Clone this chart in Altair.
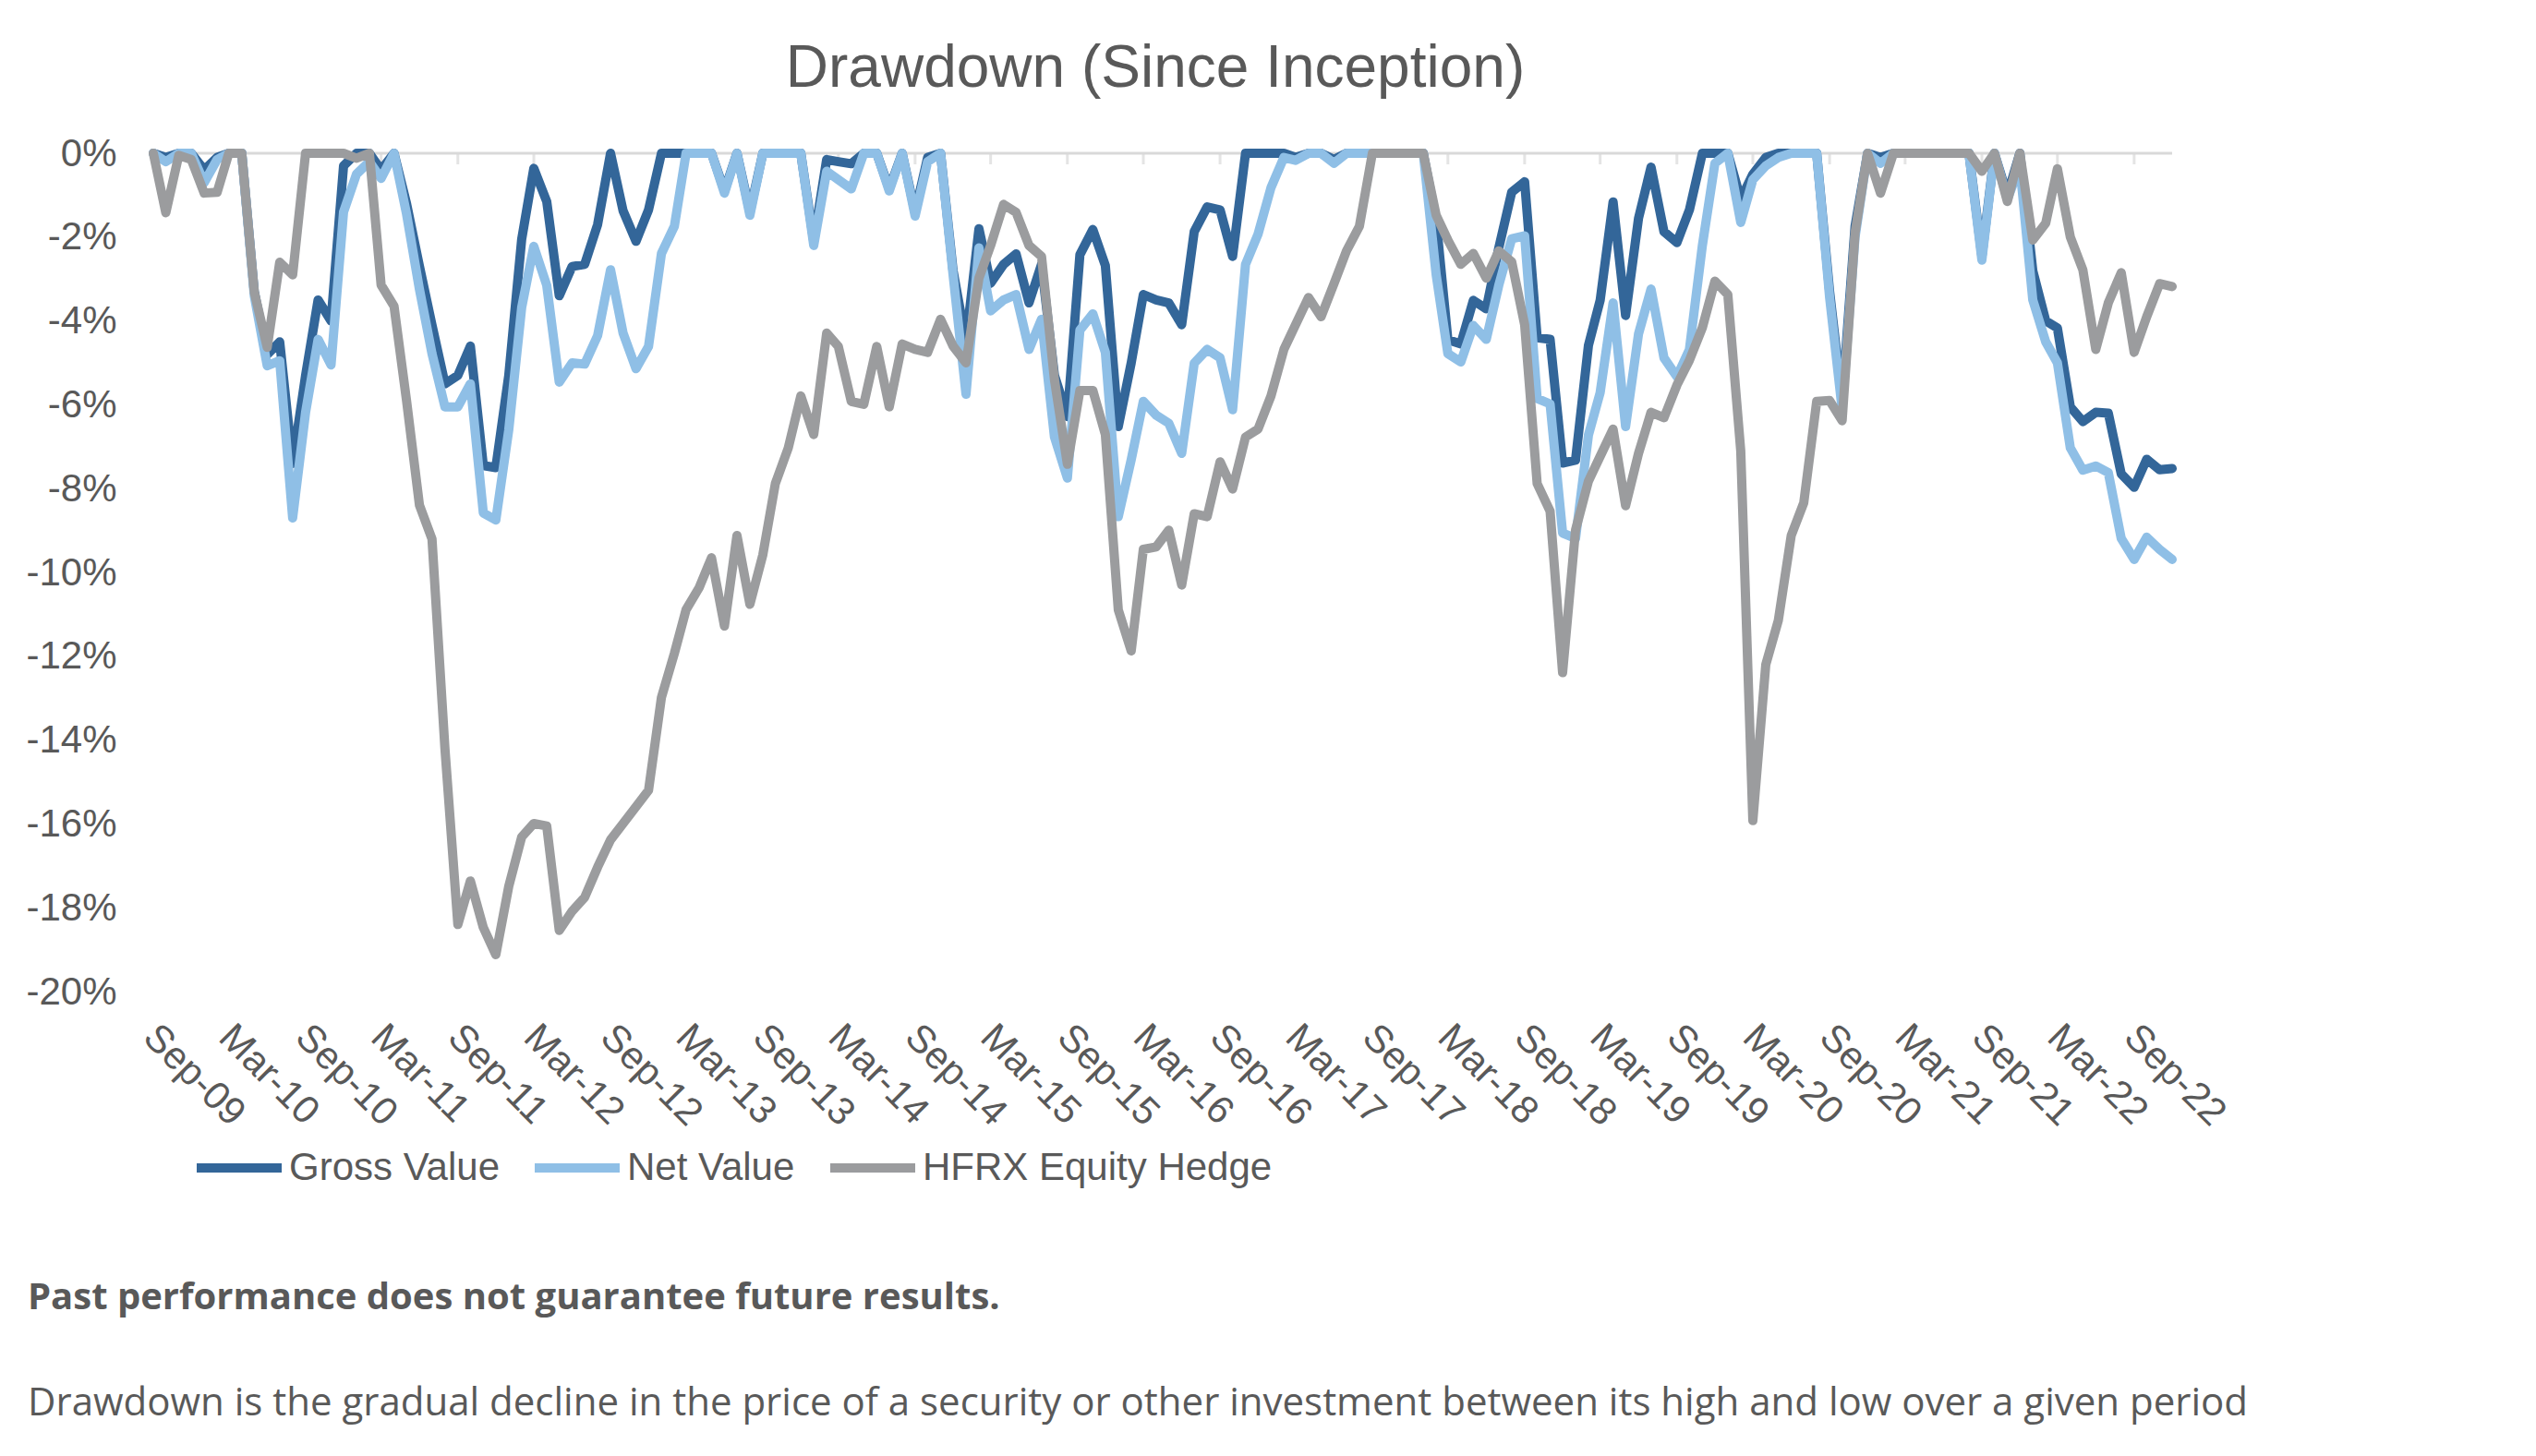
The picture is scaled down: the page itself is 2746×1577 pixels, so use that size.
import altair as alt
import pandas as pd

# ---------------- data ----------------
months = pd.date_range("2009-09-01", periods=160, freq="MS").strftime("%Y-%m-%dT00:00:00").tolist()

gross = [
    0, -0.1, 0, 0, -0.4, -0.1, 0, 0, -3.3, -4.8,
    -4.5, -7.4, -5.3, -3.5, -4.0, -0.3, 0, 0, -0.4, 0,
    -1.2, -2.7, -4.1, -5.5, -5.3, -4.6, -7.45, -7.5, -5.3, -2.05,
    -0.36, -1.15, -3.4, -2.7, -2.65, -1.7, 0, -1.37, -2.1, -1.35,
    0, 0, 0, 0, 0, -0.9, 0, -1.4, 0, 0,
    0, 0, -2.1, -0.15, -0.2, -0.25, 0, 0, -0.85, 0,
    -1.42, -0.1, 0, -2.8, -4.5, -1.8, -3.1, -2.65, -2.4, -3.57,
    -2.65, -5.3, -6.28, -2.42, -1.82, -2.68, -6.52, -5.0, -3.37, -3.5,
    -3.57, -4.09, -1.87, -1.28, -1.35, -2.46, 0, 0, 0, 0,
    -0.1, 0, 0, -0.15, 0, 0, 0, 0, 0, 0,
    0, -1.6, -4.45, -4.55, -3.51, -3.71, -2.26, -0.93, -0.68, -4.4,
    -4.44, -7.39, -7.32, -4.58, -3.51, -1.16, -3.87, -1.55, -0.33, -1.87,
    -2.13, -1.35, 0, 0, 0, -1.1, -0.5, -0.1, 0, 0,
    0, 0, -3.3, -5.9, -1.74, 0, -0.1, 0, 0, 0,
    0, 0, 0, 0, -2.45, 0, -1.0, 0, -2.8, -4.0,
    -4.17, -6.05, -6.4, -6.18, -6.2, -7.65, -7.97, -7.3, -7.55, -7.52,
]

net = [
    0, -0.2, 0, 0, -0.7, -0.15, 0, 0, -3.4, -5.07,
    -4.95, -8.7, -6.18, -4.44, -5.05, -1.4, -0.5, -0.2, -0.6, 0,
    -1.45, -3.25, -4.78, -6.05, -6.05, -5.5, -8.58, -8.75, -6.6, -3.68,
    -2.22, -3.15, -5.46, -5.0, -5.03, -4.35, -2.78, -4.29, -5.14, -4.61,
    -2.39, -1.74, 0, 0, 0, -0.95, 0, -1.48, 0, 0,
    0, 0, -2.2, -0.43, -0.63, -0.85, 0, 0, -0.9, 0,
    -1.5, -0.2, 0, -2.9, -5.75, -2.26, -3.76, -3.5, -3.37, -4.68,
    -3.96, -6.77, -7.75, -4.22, -3.83, -4.75, -8.67, -7.31, -5.92, -6.25,
    -6.44, -7.16, -5.01, -4.68, -4.88, -6.12, -2.65, -1.93, -0.82, -0.1,
    -0.17, 0, 0, -0.24, 0, 0, 0, 0, 0, 0,
    0, -2.9, -4.78, -4.98, -4.11, -4.44, -3.15, -2.04, -1.97, -5.85,
    -5.98, -9.06, -9.19, -6.72, -5.71, -3.57, -6.52, -4.31, -3.24, -4.88,
    -5.33, -4.68, -2.2, -0.24, 0, -1.65, -0.63, -0.3, -0.1, 0,
    0, 0, -3.44, -6.1, -2.0, 0, -0.24, 0, 0, 0,
    0, 0, 0, 0, -2.55, 0, -1.1, -0.3, -3.5, -4.5,
    -5.0, -7.03, -7.56, -7.46, -7.62, -9.19, -9.69, -9.16, -9.45, -9.69,
]

hfrx = [
    0, -1.42, -0.05, -0.15, -0.95, -0.93, 0, 0, -3.31, -4.63,
    -2.6, -2.9, 0, 0, 0, 0, -0.12, 0, -3.14, -3.65,
    -5.9, -8.4, -9.2, -14.2, -18.4, -17.36, -18.47, -19.12, -17.49, -16.31,
    -15.99, -16.05, -18.54, -18.08, -17.75, -17.03, -16.38, -15.99, -15.59, -15.2,
    -12.98, -11.93, -10.89, -10.37, -9.65, -11.28, -9.12, -10.76, -9.58, -7.88,
    -7.03, -5.79, -6.71, -4.29, -4.61, -5.92, -5.99, -4.61, -6.05, -4.55,
    -4.68, -4.75, -3.96, -4.6, -5.0, -2.98, -2.2, -1.22, -1.41, -2.2,
    -2.46, -5.4, -7.42, -5.66, -5.66, -6.71, -10.89, -11.87, -9.45, -9.39,
    -8.99, -10.3, -8.6, -8.67, -7.36, -8.01, -6.77, -6.58, -5.79, -4.68,
    -4.09, -3.44, -3.9, -3.11, -2.33, -1.74, 0, 0, 0, 0,
    0, -1.48, -2.07, -2.65, -2.39, -2.98, -2.33, -2.59, -4.09, -7.88,
    -8.54, -12.39, -8.99, -7.82, -7.23, -6.58, -8.41, -7.16, -6.18, -6.31,
    -5.53, -4.94, -4.16, -3.05, -3.37, -7.1, -15.92, -12.2, -11.15, -9.12,
    -8.34, -5.92, -5.9, -6.38, -1.9, 0, -0.95, 0, 0, 0,
    0, 0, 0, 0, -0.43, 0, -1.15, 0, -2.07, -1.67,
    -0.37, -2.0, -2.78, -4.68, -3.57, -2.85, -4.75, -3.9, -3.11, -3.18,
]

series_names = ["Gross Value", "Net Value", "HFRX Equity Hedge"]
series_colors = ["#336699", "#8fbfe6", "#9b9c9e"]

tick_months = months[::6]            # Sep-09, Mar-10, ... Sep-22
y_ticks = list(range(0, -21, -2))    # 0% ... -20%

title_text = "Drawdown (Since Inception)"
note_bold = "Past performance does not guarantee future results."
note_text = ("Drawdown is the gradual decline in the price of a security or other "
             "investment between its high and low over a given period")

# ---------------- tables ----------------
df = pd.DataFrame({
    "date": months * 3,
    "series": [s for s in series_names for _ in months],
    "value": gross + net + hfrx,
})
tick_df = pd.DataFrame({"date": tick_months})

# ---------------- styling ----------------
FONT = "Liberation Sans"
TXT = "#595959"

def dt(s):
    return alt.DateTime(year=int(s[:4]), month=int(s[5:7]), date=1)

x_scale = alt.Scale(domain=[dt(months[0]), dt(months[-1])], nice=False)
y_scale = alt.Scale(domain=[-20, 0], nice=False, zero=False)

x_axis = alt.Axis(
    values=[dt(m) for m in tick_months], format="%b-%y", labelAngle=45,
    labelFont=FONT, labelFontSize=42, labelColor=TXT, labelPadding=28,
    labelOffset=10, labelOverlap=False, labelFlush=False, labelBound=False,
    ticks=False, tickSize=0, domain=False, grid=False, title=None,
)
y_axis = alt.Axis(
    values=y_ticks, labelExpr="datum.value + '%'", labelFont=FONT,
    labelFontSize=42, labelColor=TXT, labelPadding=40, ticks=False,
    tickSize=0, domain=False, grid=False, title=None,
)
legend = alt.Legend(
    orient="none", legendX=42, legendY=1048, direction="horizontal", title=None,
    symbolType="stroke", symbolSize=8464, symbolStrokeWidth=10,
    labelFont=FONT, labelFontSize=42, labelColor=TXT, labelOffset=3,
    labelLimit=1000, columnPadding=18, padding=0,
)
color_scale = alt.Scale(domain=series_names, range=series_colors)

# ---------------- layers ----------------
zero_line = alt.Chart(pd.DataFrame({"z": [0]})).mark_rule(
    color="#d9d9d9", strokeWidth=3
).encode(y=alt.Y("z:Q", scale=y_scale, axis=y_axis))

tick_marks = alt.Chart(tick_df).mark_tick(
    orient="vertical", color="#d9d9d9", thickness=3, size=12, yOffset=6
).encode(
    x=alt.X("date:T", scale=x_scale, axis=x_axis),
    y=alt.datum(0),
)

lines = []
for name in series_names:
    lines.append(
        alt.Chart(df).transform_filter(alt.datum.series == name).mark_line(
            strokeWidth=10, strokeCap="round", strokeJoin="round"
        ).encode(
            x=alt.X("date:T", scale=x_scale, axis=x_axis),
            y=alt.Y("value:Q", scale=y_scale, axis=y_axis),
            color=alt.Color("series:N", scale=color_scale, legend=legend),
        )
    )

title_mark = alt.Chart(pd.DataFrame({"t": [title_text]})).mark_text(
    align="center", baseline="alphabetic", font=FONT, fontSize=64, color=TXT
).encode(text="t:N", x=alt.value(1085), y=alt.value(-72))

note1 = alt.Chart(pd.DataFrame({"t": [note_bold]})).mark_text(
    align="left", baseline="alphabetic", font="Open Sans", fontSize=40,
    fontWeight="bold", color=TXT
).encode(text="t:N", x=alt.value(-136), y=alt.value(1252))

note2 = alt.Chart(pd.DataFrame({"t": [note_text]})).mark_text(
    align="left", baseline="alphabetic", font="Open Sans", fontSize=42,
    color=TXT
).encode(text="t:N", x=alt.value(-136), y=alt.value(1367))

chart = alt.layer(zero_line, tick_marks, *lines, title_mark, note1, note2).properties(
    width=2186,
    height=908,
    autosize=alt.AutoSizeParams(type="none"),
    padding={"left": 158, "top": 158, "right": 386, "bottom": 495},
).configure_view(stroke=None)

chart.save("out.html", embed_options={"renderer": "svg", "actions": False})
